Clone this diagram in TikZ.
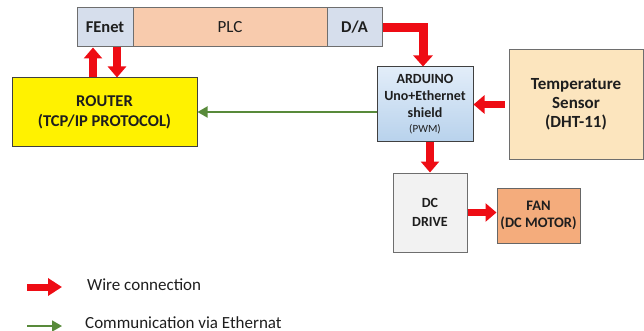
\documentclass[tikz,border=0pt]{standalone}
\usepackage{fontspec}
\setmainfont{Carlito}
\usetikzlibrary{arrows.meta,calc}
\definecolor{wred}{RGB}{238,12,20}
\definecolor{egreen}{RGB}{88,138,58}
\definecolor{plcfill}{RGB}{248,203,173}
\definecolor{portfill}{RGB}{214,222,236}
\definecolor{boxline}{RGB}{110,110,110}
\definecolor{tempfill}{RGB}{252,229,190}
\definecolor{drivefill}{RGB}{242,242,242}
\definecolor{fanfill}{RGB}{244,172,124}
\definecolor{ardtop}{RGB}{226,237,249}
\definecolor{ardbot}{RGB}{184,210,236}
\definecolor{txt}{RGB}{30,30,30}
\tikzset{
  box/.style={draw=boxline, line width=1pt, text=txt, align=center, inner sep=0pt},
  wire/.style={draw=wred, line width=7.5pt, line join=miter, -{Triangle[width=18pt,length=11pt]}},
  eth/.style={draw=egreen, line width=1.8pt, -{Triangle[width=11pt,length=10pt]}},
  bigb/.style={font=\fontsize{16.5}{20}\selectfont\bfseries},
}
\begin{document}
\begin{tikzpicture}[x=1pt,y=-1pt]
\useasboundingbox (0,0) rectangle (644,331);
% PLC strip
\node[box, fill=portfill, minimum width=56pt, minimum height=39pt, bigb] (fe) at (105,27.5) {FEnet};
\node[box, fill=plcfill, minimum width=194pt, minimum height=39pt, font=\fontsize{17}{20}\selectfont] (plc) at (230,27.5) {PLC};
\node[box, fill=portfill, minimum width=55pt, minimum height=39pt, bigb] (da) at (354.5,27.5) {D/A};
% Router
\node[box, fill=yellow, draw=black!75, minimum width=185pt, minimum height=69pt, font=\fontsize{16.5}{20}\selectfont\bfseries] (router) at (104.5,112.5) {ROUTER\\(TCP/IP PROTOCOL)};
% Arduino
\node[box, draw=black!75, top color=ardtop, bottom color=ardbot, minimum width=96pt, minimum height=75pt, font=\fontsize{14}{17}\selectfont\bfseries] (ard) at (425,104.5) {ARDUINO\\Uno+Ethernet\\shield\\[-2pt]{\fontsize{11}{12}\selectfont\mdseries (PWM)}};
% Temperature sensor
\node[box, fill=tempfill, minimum width=134pt, minimum height=109pt, font=\fontsize{17}{19}\selectfont\bfseries] (temp) at (576,104.5) {Temperature\\Sensor\\(DHT-11)};
% DC drive
\node[box, fill=drivefill, minimum width=74pt, minimum height=79pt, font=\fontsize{14}{19}\selectfont\bfseries] (dc) at (430,212.5) {DC\\DRIVE};
% Fan
\node[box, fill=fanfill, draw=black!60, minimum width=83pt, minimum height=55pt, font=\fontsize{14.5}{17}\selectfont\bfseries] (fan) at (538.5,215.5) {FAN\\(DC MOTOR)};
% connectors
\coordinate (ux) at (93,0);
\coordinate (dx) at (117,0);
\coordinate (gy) at (0,112);
\draw[wire] (router.north -| ux) -- (fe.south -| ux);
\draw[wire] (fe.south -| dx) -- (router.north -| dx);
\draw[wire, line width=9pt, -{Triangle[width=19pt,length=11pt]}] (da.east) -| ([xshift=-2pt]ard.north);
\draw[wire, shorten <=4pt] (temp.west) -- (ard.east);
\draw[wire] (ard.south -| dc.north) -- (dc.north);
\draw[wire] (dc.east) -- (dc.east -| fan.west);
\draw[eth] (ard.west |- gy) -- (router.east |- gy);
% legend
\coordinate (l1a) at (27,287);
\coordinate (l1b) at (62,287);
\coordinate (l2a) at (27,326);
\coordinate (l2b) at (62,326);
\draw[draw=wred, line width=7pt, -{Triangle[width=17pt,length=14pt]}] (l1a) -- (l1b);
\draw[eth] (l2a) -- (l2b);
\node[anchor=base west, text=txt, font=\fontsize{17}{20}\selectfont, inner sep=0pt] (lt1) at (87,290) {Wire connection};
\node[anchor=base west, text=txt, font=\fontsize{17}{20}\selectfont, inner sep=0pt] (lt2) at (85,328) {Communication via Ethernat};
\end{tikzpicture}
\end{document}
